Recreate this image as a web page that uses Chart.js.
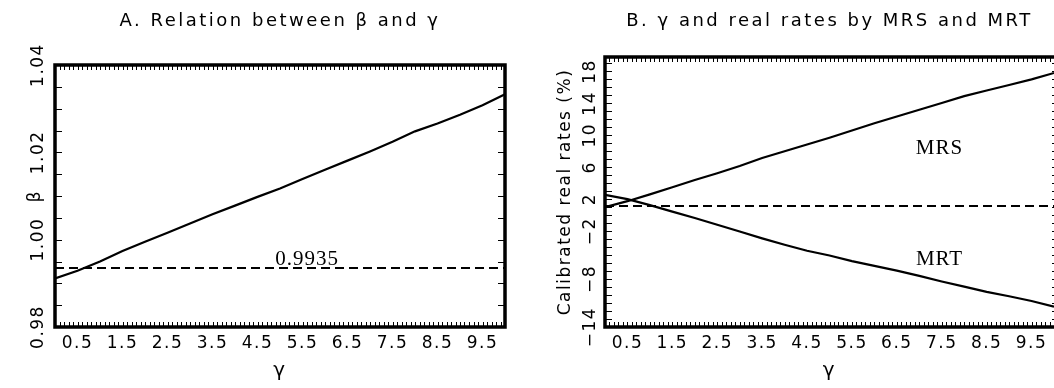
<!DOCTYPE html>
<html>
<head>
<meta charset="utf-8">
<script src="https://cdn.jsdelivr.net/npm/chart.js@4/dist/chart.umd.min.js"></script>
<style>
html,body{margin:0;padding:0;background:#fff;}
#wrap{position:relative;width:1054px;height:388px;overflow:hidden;background:#fff;}
.pane{position:absolute;top:0;width:527px;height:388px;}
</style>
</head>
<body>
<div id="wrap">
  <div class="pane" style="left:0"><canvas id="chartA" width="527" height="388"></canvas></div>
  <div class="pane" style="left:527px"><canvas id="chartB" width="527" height="388"></canvas></div>
</div>
<script>
// ---- data ----
const gammaValues = [0,0.5,1,1.5,2,2.5,3,3.5,4,4.5,5,5.5,6,6.5,7,7.5,8,8.5,9,9.5,10];
const betaValues = [0.9911,0.9929,0.9950,0.9974,0.9995,1.0016,1.0037,1.0058,1.0078,1.0098,1.0117,1.0139,1.0160,1.0181,1.0202,1.0224,1.0248,1.0266,1.0286,1.0308,1.0333];
const betaReference = 0.9935;
const mrsValues = [1.0,1.75,2.6,3.5,4.4,5.25,6.15,7.15,8.0,8.85,9.7,10.6,11.5,12.35,13.2,14.05,14.9,15.6,16.3,17.0,17.8];
const mrtValues = [2.55,2.0,1.25,0.45,-0.35,-1.2,-2.05,-2.9,-3.7,-4.45,-5.05,-5.75,-6.35,-6.95,-7.6,-8.3,-8.95,-9.6,-10.15,-10.75,-11.45];
const observedRate = 1.15;

// ---- tick labels ----
const xTickValues = [0.5,1.5,2.5,3.5,4.5,5.5,6.5,7.5,8.5,9.5];
const xTickLabels = ['0.5','1.5','2.5','3.5','4.5','5.5','6.5','7.5','8.5','9.5'];
const betaTickValues = [0.98,1.00,1.02,1.04];
const betaTickLabels = ['0.98','1.00','1.02','1.04'];
const rateTickValues = [-14,-8,-2,2,6,10,14,18];
const rateTickLabels = ['\u221214','\u22128','\u22122','2','6','10','14','18'];

// ---- texts ----
const titleA = 'A. Relation between \u03B2 and \u03B3';
const titleB = 'B. \u03B3 and real rates by MRS and MRT';
const xTitle = '\u03B3';
const yTitleA = '\u03B2';
const yTitleB = 'Calibrated real rates (%)';
const notesA = [{text:'0.9935', x:5.6, y:0.9942}];
const notesB = [{text:'MRS', x:7.45, y:7.6}, {text:'MRT', x:7.45, y:-6.25}];

const SANS = 'DejaVu Sans';
const SERIF = 'Liberation Serif';

function pts(xs, ys){ return xs.map((x,i)=>({x:x, y:ys[i]})); }

const spacingPlugin = {
  id:'spacing',
  beforeLayout(chart){ chart.ctx.letterSpacing = '1.5px'; },
  beforeDraw(chart){ chart.ctx.letterSpacing = '2.5px'; },
  beforeDatasetsDraw(chart){ chart.ctx.letterSpacing = '1.5px'; }
};

const framePlugin = {
  id:'frame',
  afterDraw(chart, args, o){
    const ctx = chart.ctx;
    const {left,right,top,bottom} = chart.chartArea;
    const xs = chart.scales.x, ys = chart.scales.y;
    ctx.save();
    ctx.letterSpacing = '0px';
    ctx.strokeStyle = '#000';
    ctx.lineWidth = 1;
    ctx.beginPath();
    for (let k=0; k<=o.xCount; k++){
      const px = Math.round(xs.getPixelForValue(o.xMin + k*o.xStep)) + 0.5;
      ctx.moveTo(px, top); ctx.lineTo(px, top + o.xLen);
      ctx.moveTo(px, bottom); ctx.lineTo(px, bottom - o.xLen);
    }
    for (let k=0; k<=o.yCount; k++){
      const py = Math.round(ys.getPixelForValue(o.yMin + k*o.yStep)) + 0.5;
      ctx.moveTo(left, py); ctx.lineTo(left + o.yLen, py);
      ctx.moveTo(right, py); ctx.lineTo(right - o.yRightLen, py);
    }
    ctx.stroke();
    ctx.lineWidth = 3.5;
    ctx.beginPath();
    if (o.rightBorder){
      ctx.rect(left, top, right-left, bottom-top);
    } else {
      ctx.moveTo(right+4, top); ctx.lineTo(left, top); ctx.lineTo(left, bottom); ctx.lineTo(right+4, bottom);
    }
    ctx.stroke();
    // annotations
    ctx.fillStyle = '#000';
    ctx.font = '21px "' + SERIF + '"';
    ctx.letterSpacing = '1px';
    ctx.textAlign = 'center';
    ctx.textBaseline = 'alphabetic';
    (o.notes||[]).forEach(n=>{
      ctx.fillText(n.text, xs.getPixelForValue(n.x), ys.getPixelForValue(n.y));
    });
    ctx.restore();
  }
};

function makeChart(id, cfg){
  return new Chart(document.getElementById(id), {
    type:'line',
    data:{datasets: cfg.datasets},
    plugins:[spacingPlugin, framePlugin],
    options:{
      animation:false, responsive:false, devicePixelRatio:1,
      layout:{padding:{left:0, right:cfg.padRight, top:0, bottom:0}},
      elements:{point:{radius:0}, line:{tension:0}},
      plugins:{
        legend:{display:false}, tooltip:{enabled:false},
        title:{display:true, text:cfg.title, fullSize:false, color:'#000',
          font:{family:SANS, size:18, weight:'normal', lineHeight:1.2},
          padding:{top:11, bottom:cfg.titleBottom}},
        frame:cfg.frame
      },
      scales:{
        x:{type:'linear', min:0, max:10,
          afterBuildTicks:(s)=>{ s.ticks = xTickValues.map(v=>({value:v})); },
          afterFit:(s)=>{ s.height = 61; },
          grid:{display:false, drawTicks:false, z:1},
          border:{display:false},
          ticks:{z:1, autoSkip:false, maxRotation:0, minRotation:0, padding:6, color:'#000',
            font:{family:SANS, size:17}, callback:(v,i)=>xTickLabels[i]},
          title:{display:true, text:xTitle, color:'#000', font:{family:SANS, size:20}, padding:{top:0, bottom:5}}
        },
        y:{type:'linear', min:cfg.yMin, max:cfg.yMax,
          afterBuildTicks:(s)=>{ s.ticks = cfg.yTickValues.map(v=>({value:v})); },
          afterFit:(s)=>{ s.width = cfg.yWidth; },
          grid:{display:false, drawTicks:false, z:1},
          border:{display:false},
          ticks:{z:1, autoSkip:false, minRotation:90, maxRotation:90, crossAlign:'center', padding:-6, color:'#000',
            font:{family:SANS, size:17}, callback:(v,i)=>cfg.yTickLabels[i]},
          title:{display:true, text:cfg.yTitle, color:'#000', font:{family:SANS, size:17}, padding:{top:cfg.yTitlePad, bottom:0}}
        }
      }
    }
  });
}

makeChart('chartA', {
  title:titleA, titleBottom:32.4, padRight:22, yWidth:55, yTitlePad:25,
  yMin:0.98, yMax:1.04, yTickValues:betaTickValues, yTickLabels:betaTickLabels, yTitle:yTitleA,
  datasets:[
    {data:pts(gammaValues, betaValues), borderColor:'#000', borderWidth:2.2, fill:false},
    {data:pts([0,10],[betaReference,betaReference]), borderColor:'#000', borderWidth:2, borderDash:[9,5], fill:false}
  ],
  frame:{xMin:0, xStep:0.1, xCount:100, xLen:5, yMin:0.98, yStep:0.005, yCount:12, yLen:7, yRightLen:7, rightBorder:true, notes:notesA}
});

makeChart('chartB', {
  title:titleB, titleBottom:24.4, padRight:0, yWidth:78, yTitlePad:28,
  yMin:-14, yMax:19.8, yTickValues:rateTickValues, yTickLabels:rateTickLabels, yTitle:yTitleB,
  datasets:[
    {data:pts(gammaValues, mrsValues), borderColor:'#000', borderWidth:2.2, fill:false},
    {data:pts(gammaValues, mrtValues), borderColor:'#000', borderWidth:2.2, fill:false},
    {data:pts([0,10],[observedRate,observedRate]), borderColor:'#000', borderWidth:2, borderDash:[9,5], fill:false}
  ],
  frame:{xMin:0, xStep:0.1, xCount:100, xLen:5, yMin:-14, yStep:1, yCount:33, yLen:7, yRightLen:2, rightBorder:false, notes:notesB}
});
</script>
</body>
</html>
